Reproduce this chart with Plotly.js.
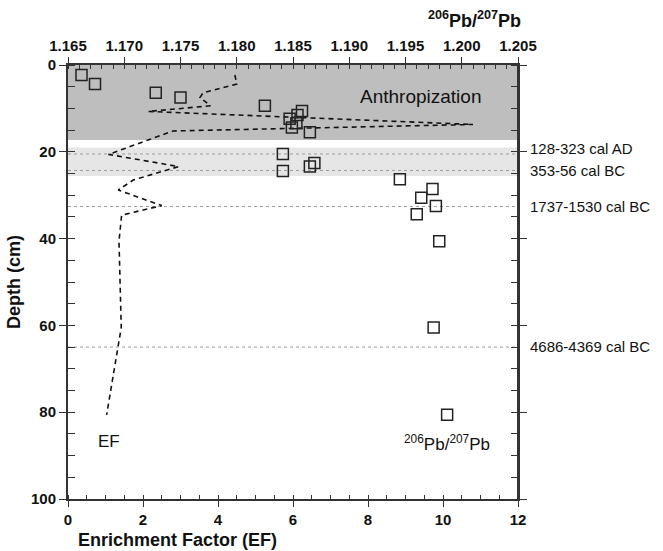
<!DOCTYPE html>
<html><head><meta charset="utf-8">
<script src="https://cdn.plot.ly/plotly-3.0.1.min.js"></script>
<style>html,body{margin:0;padding:0;background:#fff}#chart{width:663px;height:551px}</style>
</head><body><div id="chart"></div>
<script>
// 206Pb/207Pb ratio vs depth (open squares)
const pbDepth = [2.3, 4.4, 6.4, 7.5, 9.4, 10.6, 11.5, 12.4, 13.4, 14.4, 15.5, 20.5, 22.6, 23.4, 24.4, 26.3, 28.6, 30.6, 32.5, 34.4, 40.6, 60.5, 80.6];
const pbRatio = [1.1662, 1.1674, 1.1728, 1.1750, 1.1825, 1.1858, 1.1854, 1.1847, 1.1853, 1.1849, 1.1865, 1.1841, 1.1869, 1.1865, 1.1841, 1.1945, 1.1974, 1.1964, 1.1977, 1.1960, 1.1980, 1.1975, 1.1987];
// Enrichment factor vs depth (dashed line)
const efDepth = [2.3, 4.4, 6.4, 7.5, 9.4, 10.7, 13.7, 15.2, 20.6, 23.4, 26.5, 28.8, 32.4, 34.6, 40.6, 60.5, 80.6];
const efValue = [4.45, 4.5, 3.6, 3.52, 3.8, 2.14, 10.8, 2.8, 1.08, 2.95, 1.74, 1.34, 2.5, 1.43, 1.36, 1.42, 1.03];
// zones and dates
const zoneDark = [0, 17.3];
const zoneLight = [19, 25.6];
const dateDepths = [20.5, 24.3, 32.6, 65];
const dateLabels = ['128-323 cal AD', '353-56 cal BC', '1737-1530 cal BC', '4686-4369 cal BC'];
const dateLabelDepths = [19.2, 24.3, 32.6, 64.8];
const efRange = [0, 12];
const pbRange = [1.165, 1.205];
const depthRange = [100, 0];

const FONT = 'Liberation Sans, Arial, Helvetica, sans-serif';
const AX = '#333';

// band across the full EF range between two depths
const band = (z, color) => ({
  x: [efRange[0], efRange[1], efRange[1], efRange[0], efRange[0]],
  y: [z[0], z[0], z[1], z[1], z[0]],
  xaxis: 'x', yaxis: 'y', type: 'scatter', mode: 'lines', fill: 'toself',
  fillcolor: color, line: {width: 0, color: color}, hoverinfo: 'skip'});
// dotted date line across the full EF range
const dateLine = d => ({x: efRange, y: [d, d], xaxis: 'x', yaxis: 'y', type: 'scatter', mode: 'lines',
  line: {color: '#9a9a9a', width: 1, dash: 'dot'}, hoverinfo: 'skip'});

const traces = [
  band(zoneDark, '#bebebe'),
  band(zoneLight, '#e6e6e6'),
  ...dateDepths.map(dateLine),
  {x: efValue, y: efDepth, xaxis: 'x', yaxis: 'y', mode: 'lines', type: 'scatter',
   line: {color: '#111', width: 1.6, dash: '5px,4px'}},
  {x: pbRatio, y: pbDepth, xaxis: 'x2', yaxis: 'y', mode: 'markers', type: 'scatter',
   marker: {symbol: 'square-open', size: 11, color: '#222', line: {width: 1.5, color: '#222'}}}
];

const tickFont = {family: FONT, size: 15, color: '#111'};

const annotations = [
  {text: '<b><sup>206</sup>Pb/<sup>207</sup>Pb</b>', xref: 'paper', yref: 'paper', x: 1.012, y: 1.104, xanchor: 'right', yanchor: 'middle',
   showarrow: false, font: {family: FONT, size: 18, color: '#111'}},
  {text: '<b>Enrichment Factor (EF)</b>', xref: 'paper', yref: 'paper', x: 0.018, y: -0.094, xanchor: 'left', yanchor: 'middle',
   showarrow: false, font: {family: FONT, size: 18, color: '#111'}},
  {text: '<b>Depth (cm)</b>', xref: 'paper', yref: 'paper', x: -0.12, y: 0.5, xanchor: 'center', yanchor: 'middle',
   textangle: -90, showarrow: false, font: {family: FONT, size: 18, color: '#111'}},
  {text: 'Anthropization', xref: 'x', yref: 'y', x: 9.39, y: 7.3, showarrow: false,
   font: {family: FONT, size: 19, color: '#111'}},
  {text: 'EF', xref: 'x', yref: 'y', x: 1.1, y: 86.8, showarrow: false,
   font: {family: FONT, size: 17, color: '#111'}},
  {text: '<sup>206</sup>Pb/<sup>207</sup>Pb', xref: 'x', yref: 'y', x: 10.1, y: 87.2, showarrow: false,
   font: {family: FONT, size: 17, color: '#111'}}
];
dateLabels.forEach((t, i) => annotations.push({text: t, xref: 'paper', yref: 'y', x: 1.022, y: dateLabelDepths[i],
  xanchor: 'left', yanchor: 'middle', showarrow: false, font: {family: FONT, size: 15, color: '#111'}}));

// right-hand frame line of the plot area
const shapes = [
  {type: 'line', xref: 'paper', yref: 'paper', x0: 1, x1: 1, y0: 0, y1: 1, line: {color: AX, width: 2}, layer: 'above'}
];

const layout = {
  width: 663, height: 551,
  margin: {l: 68, r: 145, t: 65, b: 52},
  showlegend: false,
  font: {family: FONT, color: '#111'},
  xaxis: {range: efRange, side: 'bottom', anchor: 'y', dtick: 2, ticks: 'outside', ticklen: 6, tickcolor: AX,
    minor: {dtick: 0.5, ticks: 'inside', ticklen: 4, tickcolor: AX},
    showline: true, linecolor: AX, linewidth: 2, showgrid: false, zeroline: false,
    tickfont: tickFont, tickprefix: '<b>', ticksuffix: '</b>'},
  xaxis2: {range: pbRange, side: 'top', anchor: 'y', overlaying: 'x', dtick: 0.005, tickformat: '.3f',
    ticks: 'outside', ticklen: 6, tickcolor: AX,
    minor: {dtick: 0.001, ticks: 'inside', ticklen: 4, tickcolor: AX},
    showline: true, linecolor: AX, linewidth: 2, showgrid: false, zeroline: false,
    tickfont: tickFont, tickprefix: '<b>', ticksuffix: '</b>'},
  yaxis: {range: depthRange, anchor: 'x', dtick: 20, ticks: 'outside', ticklen: 7, tickcolor: AX, mirror: 'allticks',
    minor: {dtick: 5, ticks: 'inside', ticklen: 5, tickcolor: AX},
    showline: true, linecolor: AX, linewidth: 2, showgrid: false, zeroline: false,
    tickfont: tickFont, tickprefix: '<b>', ticksuffix: '</b>'},
  shapes: shapes,
  annotations: annotations
};

Plotly.newPlot('chart', traces, layout, {displayModeBar: false});
</script>
</body></html>
